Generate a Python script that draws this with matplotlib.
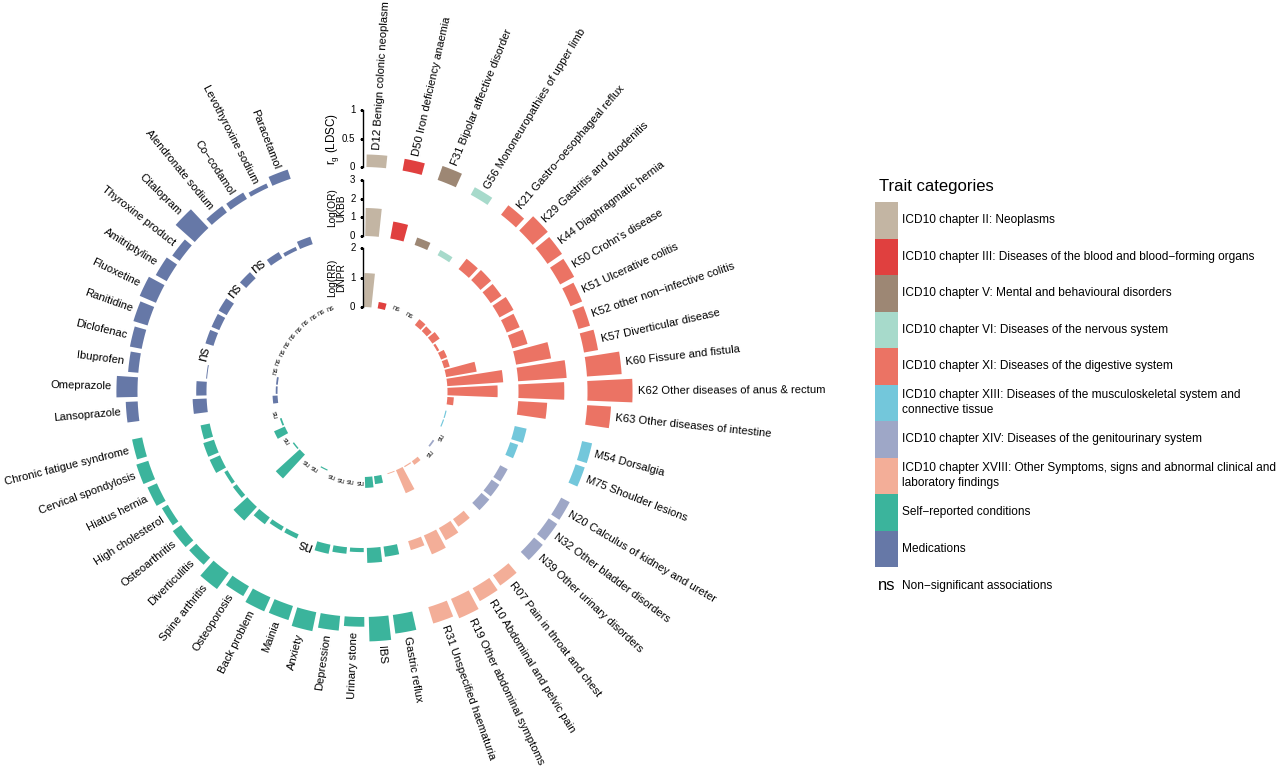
import numpy as np
import matplotlib
matplotlib.use("Agg")
import matplotlib.pyplot as plt
from matplotlib.patches import Rectangle

plt.rcParams['font.family'] = ['Liberation Sans', 'DejaVu Sans']
plt.rcParams['mathtext.fontset'] = 'custom'
plt.rcParams['mathtext.rm'] = 'Liberation Sans'
plt.rcParams['mathtext.it'] = 'Liberation Sans:italic'

# ---------------- data ----------------
categories = [
    "ICD10 chapter II: Neoplasms",
    "ICD10 chapter III: Diseases of the blood and blood\u2212forming organs",
    "ICD10 chapter V: Mental and behavioural disorders",
    "ICD10 chapter VI: Diseases of the nervous system",
    "ICD10 chapter XI: Diseases of the digestive system",
    "ICD10 chapter XIII: Diseases of the musculoskeletal system and\nconnective tissue",
    "ICD10 chapter XIV: Diseases of the genitourinary system",
    "ICD10 chapter XVIII: Other Symptoms, signs and abnormal clinical and\nlaboratory findings",
    "Self\u2212reported conditions",
    "Medications",
]
cat_colors = ["#C3B5A3", "#E0403F", "#9D8774", "#A7DACB", "#EB7364",
              "#73C7DB", "#9EA7C7", "#F3AE98", "#3BB49C", "#6678A7"]

traits = [
    "D12 Benign colonic neoplasm", "D50 Iron deficiency anaemia",
    "F31 Bipolar affective disorder", "G56 Mononeuropathies of upper limb",
    "K21 Gastro\u2212oesophageal reflux", "K29 Gastritis and duodenitis",
    "K44 Diaphragmatic hernia", "K50 Crohn's disease", "K51 Ulcerative colitis",
    "K52 other non\u2212infective colitis", "K57 Diverticular disease",
    "K60 Fissure and fistula", "K62 Other diseases of anus & rectum",
    "K63 Other diseases of intestine",
    "M54 Dorsalgia", "M75 Shoulder lesions",
    "N20 Calculus of kidney and ureter", "N32 Other bladder disorders",
    "N39 Other urinary disorders",
    "R07 Pain in throat and chest", "R10 Abdominal and pelvic pain",
    "R19 Other abdominal symptoms", "R31 Unspecified haematuria",
    "Gastric reflux", "IBS", "Urinary stone", "Depression", "Anxiety", "Mainia",
    "Back problem", "Osteoporosis", "Spine arthritis", "Diverticulitis",
    "Osteoarthritis", "High cholesterol", "Hiatus hernia",
    "Cervical spondylosis", "Chronic fatigue syndrome",
    "Lansoprazole", "Omeprazole", "Ibuprofen", "Diclofenac", "Ranitidine",
    "Fluoxetine", "Amitriptyline", "Thyroxine product", "Citalopram",
    "Alendronate sodium", "Co\u2212codamol", "Levothyroxine sodium", "Paracetamol",
]
trait_category = ([0, 1, 2, 3] + [4] * 10 + [5] * 2 + [6] * 3 + [7] * 4
                  + [8] * 15 + [9] * 13)

ns = np.nan
rg_ldsc = [0.22, 0.21, 0.26, 0.15,
           0.21, 0.35, 0.31, 0.28, 0.22, 0.21, 0.25, 0.61, 0.79, 0.42,
           0.18, 0.17,
           0.17, 0.18, 0.20,
           0.22, 0.26, 0.37, 0.30,
           0.33, 0.43, 0.17, 0.26, 0.34, 0.26, 0.27, 0.20, 0.35, 0.17,
           0.18, 0.12, 0.18, 0.22, 0.18,
           0.21, 0.37, 0.18, 0.21, 0.26, 0.31, 0.22, 0.16, 0.45, 0.14,
           0.13, 0.08, 0.17]
logor_ukbb = [1.50, 0.92, 0.42, 0.32,
              0.70, 0.75, 0.70, 0.85, 0.75, 0.85, 1.90, 2.60, 2.45, 1.55,
              0.65, 0.45,
              0.45, 0.50, 0.55,
              0.50, 0.75, 1.10, 0.50,
              0.55, 0.80, 0.22, 0.35, 0.50, ns, 0.25, 0.25, 0.45, 1.00,
              0.25, 0.20, 0.60, 0.60, 0.50,
              0.75, 0.55, 0.05, ns, 0.45, 0.45, 0.50, ns, 0.45, ns,
              0.38, 0.20, 0.42]
logrr_dnpr = [1.15, 0.22, ns, ns,
              0.25, 0.22, 0.30, 0.08, 0.22, 0.20, 1.05, 1.90, 1.70, 0.22,
              0.04, 0.04,
              ns, 0.06, ns,
              0.15, 0.04, 0.85, 0.03,
              0.27, 0.37, ns, ns, ns, ns, 0.04, ns, ns, 1.10,
              0.05, ns, 0.40, 0.06, ns,
              0.17, 0.06, 0.06, ns, ns, ns, ns, ns, ns, ns,
              ns, ns, ns]

# ---------------- layout ----------------
W, H = 1280, 773
fig = plt.figure(figsize=(W / 100, H / 100), dpi=100)
R = 400
cx, cy = 362.5, H - 392
ax = fig.add_axes([(cx - R) / W, (cy - R) / H, 2 * R / W, 2 * R / H],
                  projection='polar')
ax.set_theta_zero_location('N')
ax.set_theta_direction(-1)
ax.set_ylim(0, R)
ax.axis('off')

start_deg, step_deg, gap_deg, bar_deg = 3.5, 6.15, 3.1, 5.0
idx = np.arange(len(traits))
theta_deg = start_deg + idx * step_deg + np.array(trait_category) * gap_deg
theta = np.deg2rad(theta_deg)
colors = [cat_colors[c] for c in trait_category]
width = np.deg2rad(bar_deg)

rings = [  # (values, base radius, px per unit, ns fontsize)
    (np.array(logrr_dnpr, float), 85.0, 29.5, 5.3),
    (np.array(logor_ukbb, float), 156.0, 18.7, 10),
    (np.array(rg_ldsc, float), 225.0, 57.0, 10),
]
for vals, base, unit, nsfs in rings:
    ok = ~np.isnan(vals)
    ax.bar(theta[ok], vals[ok] * unit, width=width, bottom=base,
           color=np.array(colors)[ok], edgecolor='none', align='center')
    for t, td in zip(theta[~ok], theta_deg[~ok]):
        ax.text(t, base + 0.5, 'ns', rotation=-td, rotation_mode='anchor',
                ha='center', va='bottom', fontsize=nsfs, color='#111111')

# trait labels
outer_vals = np.array(rg_ldsc, float)
for t, td, lab, v in zip(theta, theta_deg, traits, outer_vals):
    r = 225 + v * 57 + 5
    if td < 180:
        rot, ha = 90 - td, 'left'
    else:
        rot, ha = 270 - td, 'right'
    ax.text(t, r, lab, rotation=rot, rotation_mode='anchor', ha=ha,
            va='center', fontsize=8.1)

# scale axes in the gap
def draw_scale(base, unit, ticks, labels, title, title_fs, title_off):
    rs = [base + tk * unit for tk in ticks]
    ax.plot([0, 0], [rs[0], rs[-1]], color='black', lw=1)
    ax.plot([0] * len(rs), rs, ls='none', marker=0, ms=2.5, mew=1,
            color='black')
    for r, lab in zip(rs, labels):
        ax.annotate(lab, xy=(0, r), xytext=(-7, 0), textcoords='offset pixels',
                    ha='right', va='center', fontsize=7)
    ax.annotate(title, xy=(0, (rs[0] + rs[-1]) / 2), xytext=(title_off, 0),
                textcoords='offset pixels', rotation=90, ha='center',
                va='center', fontsize=title_fs, linespacing=0.95)

draw_scale(225, 57, [0, 0.5, 1], ['0', '0.5', '1'], r'r$_{\rm g}$ (LDSC)',
           8.4, -30)
draw_scale(156, 18.7, [0, 1, 2, 3], ['0', '1', '2', '3'], 'Log(OR)\nUKBB',
           7.3, -26)
draw_scale(85, 29.5, [0, 1, 2], ['0', '1', '2'], 'Log(RR)\nDNPR', 7.3, -26)

# legend
lax = fig.add_axes([0, 0, 1, 1])
lax.set_xlim(0, W)
lax.set_ylim(H, 0)
lax.axis('off')
lax.text(879, 186, "Trait categories", fontsize=12, ha='left', va='center')
for k, (c, lab) in enumerate(zip(cat_colors, categories)):
    y0 = 202 + k * 36.5
    lax.add_patch(Rectangle((875, y0), 23, 36.5, facecolor=c, edgecolor='none'))
    lax.text(902, y0 + 18.25, lab, fontsize=8.6, ha='left', va='center',
             linespacing=1.3)
lax.text(878, 586, 'ns', fontsize=12, ha='left', va='center')
lax.text(902, 586, 'Non\u2212significant associations', fontsize=8.6,
         ha='left', va='center')

fig.savefig('out.png', dpi=100, facecolor='white')
